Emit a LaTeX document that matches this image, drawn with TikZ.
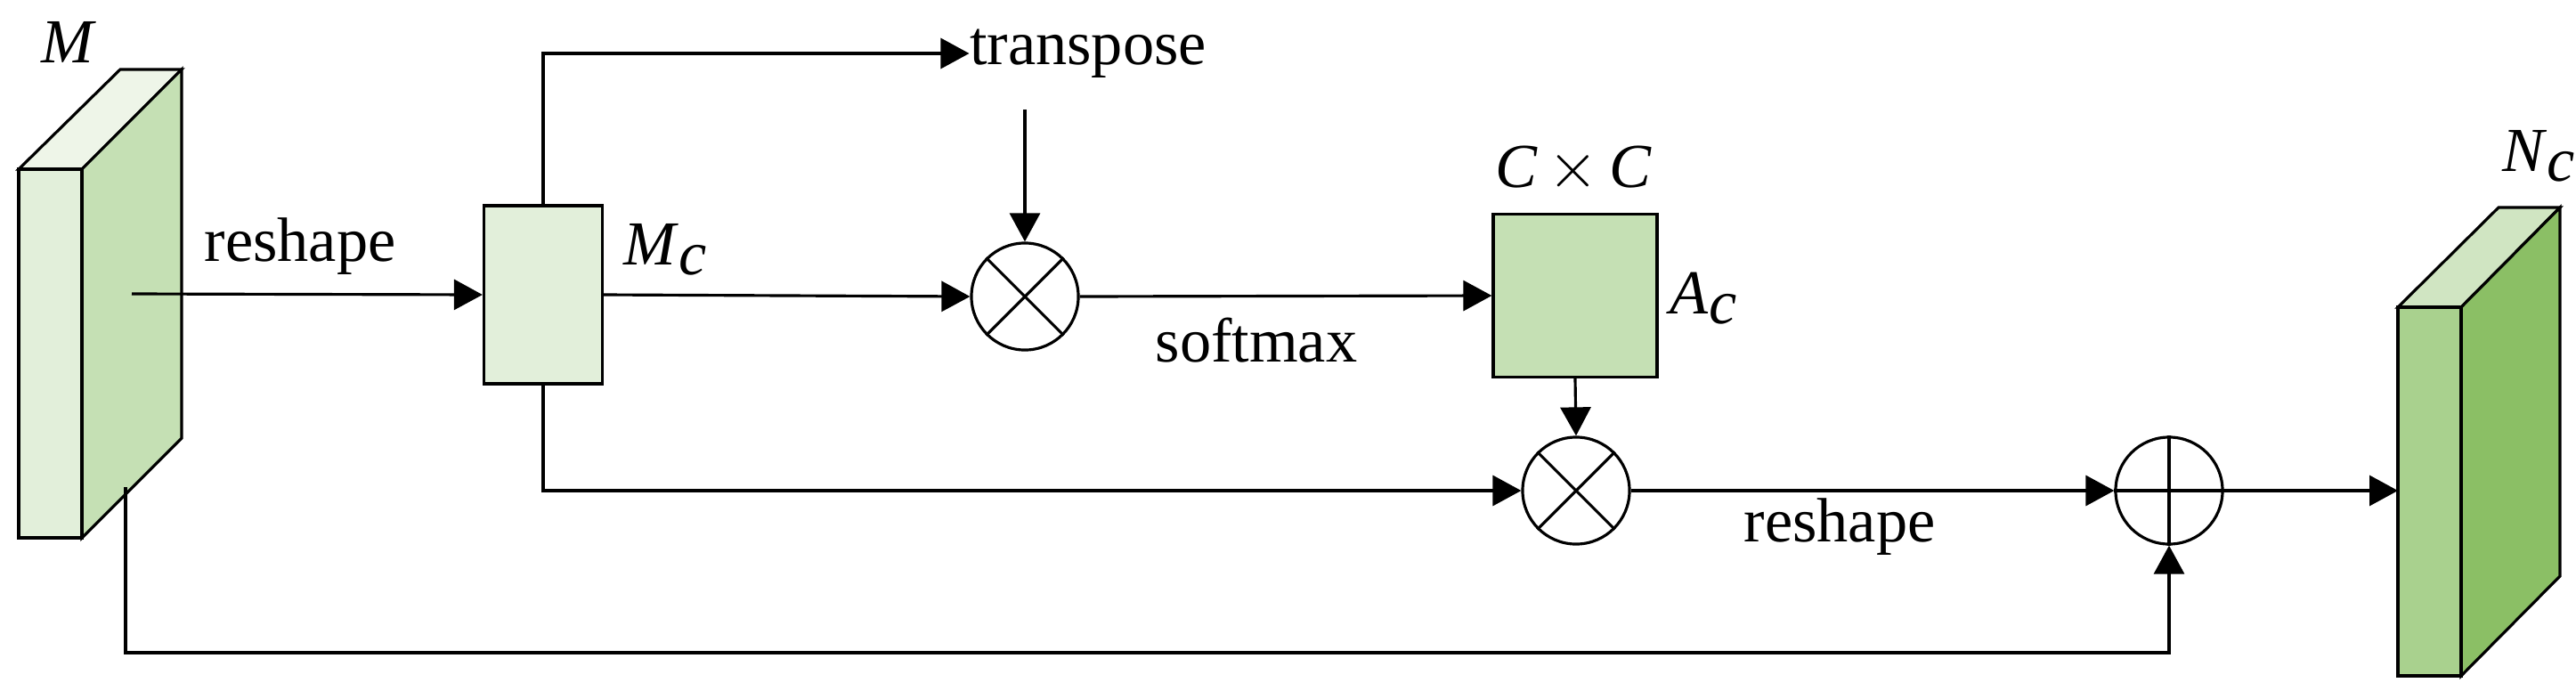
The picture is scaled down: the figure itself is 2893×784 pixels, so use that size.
\documentclass[tikz,border=0pt]{standalone}
\usepackage{fontspec}
\setmainfont{Liberation Serif}
\usetikzlibrary{arrows.meta}
\definecolor{paleG}{HTML}{E2EFDA}
\definecolor{midG}{HTML}{C5E0B4}
\definecolor{topG}{HTML}{EEF5E8}
\definecolor{deepG}{HTML}{A9D18E}
\definecolor{darkG}{HTML}{8BBF65}
\definecolor{lidG}{HTML}{D0E5C2}
\tikzset{
  line/.style={line width=0.9pt},
  arr/.style={line, -{Triangle[length=0.32cm,width=0.34cm]}},
  op/.style={circle, draw, line width=0.9pt, minimum size=1.2cm, inner sep=0pt},
  lbl/.style={font=\fontsize{20}{24}\selectfont, inner sep=0pt},
}
\begin{document}
\begin{tikzpicture}[x=0.01cm, y=-0.01cm]
      \useasboundingbox (0,0) rectangle (2893,784);
      % input tensor M
      \draw[line, fill=topG] (21,190) -- (135,78) -- (204,78) -- (92,190) -- cycle;
      \draw[line, fill=midG] (92,190) -- (204,78) -- (204,492) -- (92,604) -- cycle;
      \draw[line, fill=paleG] (21,190) rectangle (92,604);
      \node[lbl] (M) at (77,47) {\textit{M}};
      \coordinate (min) at (148,330);
      \coordinate (mloop) at (141,547);
      % output tensor Nc
      \draw[line, fill=lidG] (2693,345) -- (2806,233) -- (2875,233) -- (2764,345) -- cycle;
      \draw[line, fill=darkG] (2764,345) -- (2875,233) -- (2875,647) -- (2764,759) -- cycle;
      \draw[line, fill=deepG] (2693,345) rectangle (2764,759);
      \node[lbl] (Nc) at (2852,175) {\textit{N}$_{\textit{c}}$};
      \coordinate (nin) at (2693,551);
      % blocks
      \node[draw, line, fill=paleG, minimum width=1.33cm, minimum height=2.0cm, inner sep=0pt] (Mc) at (610,331) {};
      \node[lbl, anchor=west] (McL) at (700,280) {\textit{M}$_{\textit{c}}$};
      \node[lbl] (tr) at (1222,60) {transpose};
      \node[op] (mul1) at (1151,333) {};
      \node[draw, line, fill=midG, minimum width=1.84cm, minimum height=1.83cm, inner sep=0pt] (Ac) at (1769,332) {};
      \node[lbl] (CC) at (1767,190) {\textit{C}\,$\times$\,\textit{C}};
      \node[lbl] (AcL) at (1914,335) {\textit{A}$_{\textit{c}}$};
      \node[op] (mul2) at (1770,551) {};
      \node[op] (add) at (2436,551) {};
      \draw[line] (mul1.north west) -- (mul1.south east) (mul1.north east) -- (mul1.south west);
      \draw[line] (mul2.north west) -- (mul2.south east) (mul2.north east) -- (mul2.south west);
      \draw[line] (add.north) -- (add.south) (add.west) -- (add.east);
      % labels on arrows
      \node[lbl] (rs1) at (337,277) {reshape};
      \node[lbl] (sm) at (1411,382) {softmax};
      \node[lbl] (rs2) at (2066,592) {reshape};
      % connectors
      \draw[arr] (min) -- (Mc.west);
      \draw[arr] (Mc.north) |- (tr.west);
      \draw[arr] (tr.south -| mul1.north) ++(0,35) -- (mul1.north);
      \draw[arr] (Mc.east) -- (mul1.west);
      \draw[arr] (mul1.east) -- (Ac.west);
      \draw[arr] (Ac.south) -- (mul2.north);
      \draw[arr] (Mc.south) |- (mul2.west);
      \draw[arr] (mul2.east) -- (add.west);
      \draw[arr] (mloop) -- (141,733) -| (add.south);
      \draw[arr] (add.east) -- (nin);
\end{tikzpicture}
\end{document}
